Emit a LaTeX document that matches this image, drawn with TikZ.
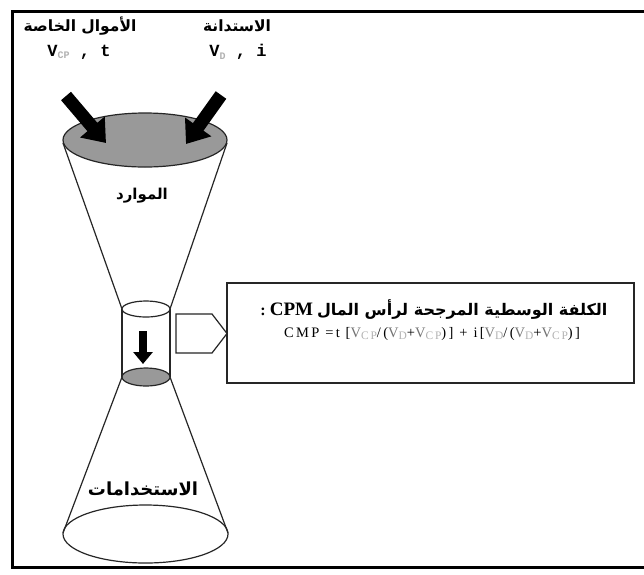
\documentclass[tikz,border=0pt]{standalone}
\usepackage{fontspec}
\setmainfont{Liberation Serif}
\newfontfamily\arabicfont[Script=Arabic]{DejaVu Sans}
\newfontfamily\monofont{Liberation Mono}
\newfontfamily\wideserif[LetterSpace=16]{Liberation Serif}
\TeXXeTstate=1
\usetikzlibrary{arrows.meta}
\definecolor{capgray}{gray}{0.6}
\definecolor{subgray}{gray}{0.7}
\newcommand\lowsub[1]{\raisebox{-0.3ex}{\fontsize{10}{10}\selectfont\color{subgray}#1}}
\newcommand\fsub[1]{\raisebox{-0.3ex}{\fontsize{11.5}{11.5}\selectfont\color{subgray}#1}}
\newcommand\gV{{\color{black!55}V}}
\tikzset{
  frameline/.style={line width=3pt, line cap=rect},
  shapeline/.style={line width=1.2pt, black!85},
  capfill/.style={shapeline, fill=capgray},
  bigarrow/.style={line width=13pt, -{Triangle[length=21pt,width=31pt]}},
  smallarrow/.style={line width=8pt, -{Triangle[length=12pt,width=19pt]}},
  lbl/.style={inner sep=1pt, font=\arabicfont\bfseries\fontsize{15.5}{17}\selectfont},
  symlbl/.style={inner sep=1pt, font=\monofont\bfseries\fontsize{17}{19}\selectfont},
  boxline/.style={line width=1.5pt, black!85}
}
\begin{document}
\begin{tikzpicture}[x=1pt,y=-1pt]
\useasboundingbox (0,0) rectangle (644,574);
\fill[white] (0,0) rectangle (644,574);
% outer frame (right side lies beyond the picture)
\draw[frameline] (644,11) -- (12,11) -- (12,567) -- (644,567);

% coordinates of the hourglass
\coordinate (topL) at (63,143);
\coordinate (topR) at (227,143);
\coordinate (cylTL) at (122,309);
\coordinate (cylTR) at (170,309);
\coordinate (cylBL) at (122,377);
\coordinate (cylBR) at (170,377);
\coordinate (botL) at (63,533);
\coordinate (botR) at (228,533);

% cones and cylinder
\draw[shapeline] (topL) -- (cylTL);
\draw[shapeline] (topR) -- (cylTR);
\draw[shapeline] (cylBL) -- (botL);
\draw[shapeline] (cylBR) -- (botR);
\draw[shapeline] (cylTL) -- (cylBL);
\draw[shapeline] (cylTR) -- (cylBR);

% ellipses
\draw[capfill] (145,140) ellipse [x radius=82, y radius=27];
\draw[shapeline, fill=white] (146,309) ellipse [x radius=24, y radius=8];
\draw[capfill] (146,377) ellipse [x radius=24, y radius=9];
\draw[shapeline] (145.5,534) ellipse [x radius=82.5, y radius=29];

% big input arrows
\coordinate (aLs) at (66,96);
\coordinate (aLe) at (106,143);
\coordinate (aRs) at (221,95);
\coordinate (aRe) at (186,144);
\draw[bigarrow] (aLs) -- (aLe);
\draw[bigarrow] (aRs) -- (aRe);

% down arrow in the cylinder
\coordinate (dS) at (143,331);
\coordinate (dE) at (143,364);
\draw[smallarrow] (dS) -- (dE);

% pentagon pointer
\draw[line width=1.2pt, black!85, fill=white] (176,314) -- (212,314) -- (227,333.5) -- (212,353) -- (176,353) -- cycle;

% labels
\node[lbl] (own) at (80,26) {\beginR الأموال الخاصة\endR};
\node[lbl] (debt) at (237,26) {\beginR الاستدانة\endR};
\node[symlbl] (vcp) at (79,52) {V\lowsub{CP} , t};
\node[symlbl] (vd) at (238,52) {V\lowsub{D} , i};
\node[lbl, font=\arabicfont\bfseries\fontsize{15}{17}\selectfont] (res) at (142,196) {\beginR الموارد\endR};
\node[lbl, font=\arabicfont\bfseries\fontsize{18}{20}\selectfont] (uses) at (143,489) {\beginR الاستخدامات\endR};

% formula box
\node[boxline, draw, fill=white, minimum width=407pt, minimum height=100pt, inner sep=0pt] (box) at (430.5,333) {};
\node[inner sep=1pt, font=\fontsize{16}{18}\selectfont] (title) at (434,309)
  {\beginR{\arabicfont\bfseries الكلفة الوسطية المرجحة لرأس المال} \beginL{\bfseries\fontsize{19}{21}\selectfont CPM}\endL{} {\bfseries :}\endR};
\node[inner sep=1pt, font=\wideserif\fontsize{14.5}{16}\selectfont] (formula) at (432,334)
  {CMP =t [\gV\fsub{CP}/(\gV\fsub{D}+\gV\fsub{CP})] + i[\gV\fsub{D}/(\gV\fsub{D}+\gV\fsub{CP})]};
\end{tikzpicture}
\end{document}
